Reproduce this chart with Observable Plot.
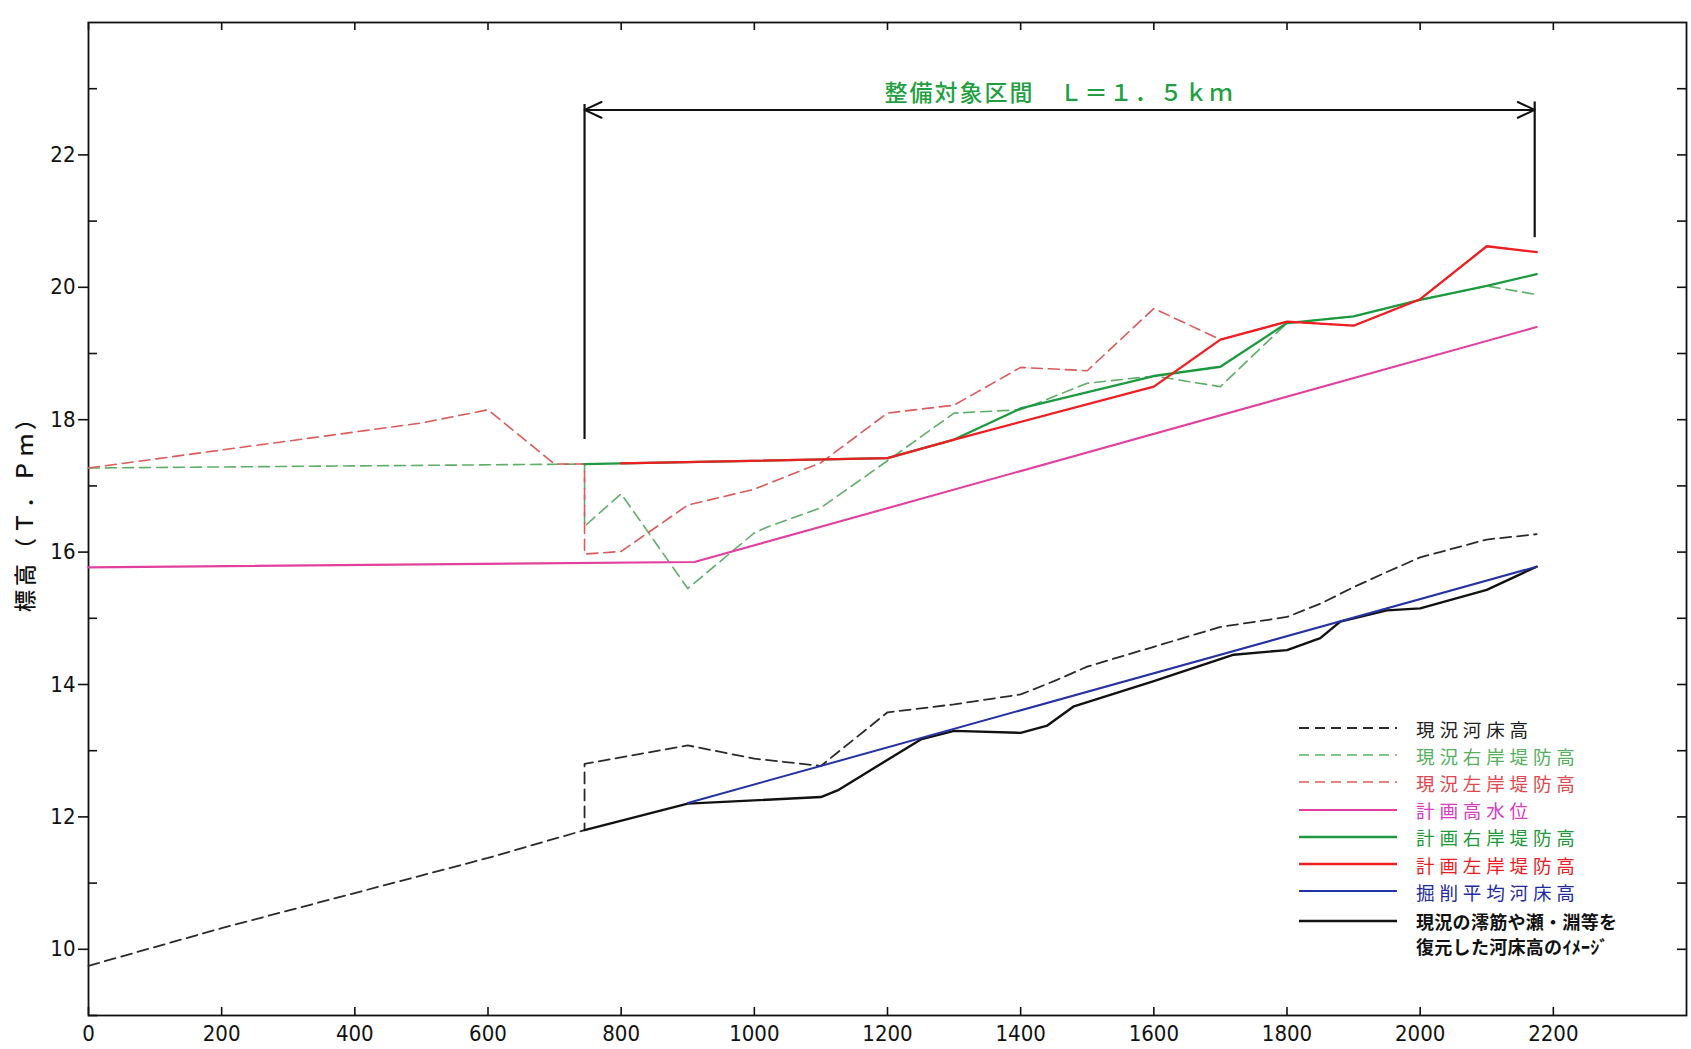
<!DOCTYPE html>
<html>
<head>
<meta charset="utf-8">
<script src="https://cdn.jsdelivr.net/npm/d3@7"></script>
<script src="https://cdn.jsdelivr.net/npm/@observablehq/plot@0.6"></script>
<style>
  html, body { margin: 0; padding: 0; background: #fff; }
  #wrap { position: relative; width: 1691px; height: 1049px; overflow: hidden; background: #fff; }
  #legend { position: absolute; left: 0; top: 0; width: 1691px; height: 1049px; pointer-events: none;
            font-family: "Noto Sans CJK JP", "Noto Sans", sans-serif; }
  .lg-row { position: absolute; display: flex; align-items: center; white-space: nowrap; }
  .lg-text { font-size: 18.6px; letter-spacing: 4.8px; line-height: 27px; }
  .lg-text.small { font-size: 18px; font-weight: 700; letter-spacing: 0.3px; line-height: 25px; }
</style>
</head>
<body>
<div id="wrap"><div id="chart"></div><div id="legend"></div></div>
<script>
// ---------------- data ----------------
// x: distance (m), y: elevation T.P. (m)
const bedCurrent = [[0,9.75],[200,10.32],[400,10.85],[600,11.38],[745,11.80],[745,12.80],[900,13.08],[1000,12.88],[1100,12.77],[1200,13.58],[1300,13.70],[1400,13.85],[1450,14.05],[1500,14.27],[1600,14.57],[1700,14.87],[1800,15.02],[1850,15.22],[1900,15.47],[1950,15.70],[2000,15.92],[2100,16.19],[2175,16.27]];
const rightBankCurrent = [[0,17.27],[745,17.33],[745,16.39],[800,16.88],[900,15.45],[1000,16.29],[1020,16.38],[1100,16.67],[1200,17.38],[1300,18.10],[1400,18.15],[1500,18.55],[1600,18.66],[1700,18.50],[1800,19.46],[1900,19.56],[2000,19.81],[2100,20.02],[2175,19.89]];
const leftBankCurrent = [[0,17.27],[500,17.95],[600,18.15],[700,17.33],[745,17.33],[745,15.97],[800,16.01],[900,16.71],[1000,16.95],[1100,17.35],[1200,18.10],[1300,18.22],[1400,18.79],[1500,18.74],[1600,19.68],[1700,19.21],[1800,19.48],[1900,19.42],[2000,19.82],[2100,20.62],[2175,20.53]];
const highWaterPlan = [[0,15.77],[910,15.85],[2175,19.40]];
const rightBankPlan = [[745,17.33],[800,17.34],[1200,17.42],[1300,17.70],[1400,18.17],[1600,18.66],[1700,18.80],[1800,19.46],[1900,19.56],[2000,19.81],[2100,20.02],[2175,20.20]];
const leftBankPlan = [[800,17.34],[1200,17.42],[1300,17.70],[1600,18.50],[1700,19.21],[1800,19.48],[1900,19.42],[2000,19.82],[2100,20.62],[2175,20.53]];
const excavatedBed = [[900,12.21],[2175,15.78]];
const restoredBed = [[745,11.80],[900,12.20],[1100,12.30],[1125,12.40],[1250,13.17],[1300,13.30],[1400,13.27],[1440,13.38],[1480,13.67],[1600,14.05],[1720,14.45],[1800,14.52],[1850,14.70],[1880,14.95],[1950,15.12],[2000,15.15],[2100,15.43],[2175,15.78]];

// section annotation
const sectionRange = [745, 2172];
const sectionArrowY = [22.68];
const sectionBracketLeft = [22.76, 17.70];
const sectionBracketRight = [22.80, 20.75];
const sectionLabel = ["整備対象区間　Ｌ＝１．５ｋｍ"];

// axes
const xDomain = [0, 2400];
const yDomain = [9, 24];
const xTickValues = [0,200,400,600,800,1000,1200,1400,1600,1800,2000,2200];
const yLabelValues = [10,12,14,16,18,20,22];
const yMinorValues = [9,11,13,15,17,19,21,23];
const yRightValues = [10,11,12,13,14,15,16,17,18,19,20,21,22,23];
const yAxisLabel = ["標高（Ｔ．Ｐｍ）"];

// legend
const legendLabels = ["現況河床高","現況右岸堤防高","現況左岸堤防高","計画高水位","計画右岸堤防高","計画左岸堤防高","掘削平均河床高","現況の澪筋や瀬・淵等を\n復元した河床高のｲﾒｰｼﾞ"];

// ---------------- styles ----------------
const C = {
  bedCurrent: "#2a2a2a",
  rightBankCurrent: "#5fae68",
  leftBankCurrent: "#dc5a5a",
  highWater: "#e2409f",
  rightBankPlan: "#1d9a40",
  leftBankPlan: "#ee1e22",
  excavated: "#2432a4",
  restored: "#111111",
  annot: "#1fa040"
};
const legendStyle = [
  {stroke: C.bedCurrent, dash: "10,6", text: "#222", w: 1.8},
  {stroke: C.rightBankCurrent, dash: "10,6", text: "#55b060", w: 1.6},
  {stroke: C.leftBankCurrent, dash: "10,6", text: "#e0484f", w: 1.6},
  {stroke: C.highWater, dash: null, text: "#d83cc0", w: 2.2},
  {stroke: C.rightBankPlan, dash: null, text: "#1e9a3c", w: 2.4},
  {stroke: C.leftBankPlan, dash: null, text: "#ec1c24", w: 2.4},
  {stroke: C.excavated, dash: null, text: "#1f2aa0", w: 2.2},
  {stroke: C.restored, dash: null, text: "#111", w: 2.4, small: true}
];

const W = 1691, H = 1049, mL = 88, mR = 5, mT = 22, mB = 34;
const innerW = W - mL - mR, innerH = H - mT - mB;
const px = d => d[0], py = d => d[1];
const sectionMid = (sectionRange[0] + sectionRange[1]) / 2;

const chart = Plot.plot({
  width: W, height: H,
  marginLeft: mL, marginRight: mR, marginTop: mT, marginBottom: mB,
  x: {domain: xDomain},
  y: {domain: yDomain},
  style: {fontFamily: "'Liberation Sans Narrow', 'DejaVu Sans Condensed', 'Liberation Sans', sans-serif", fontSize: "22px", color: "#111", background: "#fff", overflow: "visible"},
  marks: [
    Plot.axisX(xTickValues, {tickSize: 0, tickPadding: 10, tickFormat: d => String(d), label: null, fontSize: 22}),
    Plot.axisY(yLabelValues, {tickSize: 10, tickPadding: 3, tickFormat: d => String(d), label: null, fontSize: 22, strokeWidth: 1.6}),
    Plot.tickX(xTickValues, {x: d => d, insetTop: innerH - 8, stroke: "#111", strokeWidth: 1.6}),
    Plot.tickX(xTickValues, {x: d => d, insetBottom: innerH - 8, stroke: "#111", strokeWidth: 1.6}),
    Plot.tickY(yMinorValues, {y: d => d, insetRight: innerW - 9, stroke: "#111", strokeWidth: 1.6}),
    Plot.tickY(yRightValues, {y: d => d, insetLeft: innerW - 9, stroke: "#111", strokeWidth: 1.6}),
    Plot.frame({stroke: "#111", strokeWidth: 1.8}),
    Plot.text(yAxisLabel, {frameAnchor: "left", textAnchor: "middle", rotate: -90, dx: -63, dy: -11, fill: "#111", fontSize: 22, fontWeight: 500, fontFamily: "Noto Sans CJK JP"}),

    // section annotation
    Plot.ruleX([sectionRange[0]], {x: d => d, y1: sectionBracketLeft[0], y2: sectionBracketLeft[1], stroke: "#111", strokeWidth: 2.2}),
    Plot.ruleX([sectionRange[1]], {x: d => d, y1: sectionBracketRight[0], y2: sectionBracketRight[1], stroke: "#111", strokeWidth: 2.2}),
    Plot.arrow([sectionRange[0], sectionRange[1]], {x1: () => sectionMid, x2: d => d, y1: () => sectionArrowY[0], y2: () => sectionArrowY[0], headLength: 14, headAngle: 50, stroke: "#111", strokeWidth: 2, insetStart: 0, insetEnd: 0}),
    Plot.text(sectionLabel, {x: () => sectionMid, y: () => sectionArrowY[0], dy: -16, fill: C.annot, fontSize: 23, fontFamily: "Noto Sans CJK JP", fontWeight: 500}),

    // dashed (current) lines
    Plot.line(bedCurrent, {x: px, y: py, stroke: C.bedCurrent, strokeWidth: 1.8, strokeDasharray: "11,6"}),
    Plot.line(rightBankCurrent, {x: px, y: py, stroke: C.rightBankCurrent, strokeWidth: 1.6, strokeDasharray: "11,6"}),
    Plot.line(leftBankCurrent, {x: px, y: py, stroke: C.leftBankCurrent, strokeWidth: 1.6, strokeDasharray: "11,6"}),
    // plan lines
    Plot.line(highWaterPlan, {x: px, y: py, stroke: C.highWater, strokeWidth: 2.1}),
    Plot.line(rightBankPlan, {x: px, y: py, stroke: C.rightBankPlan, strokeWidth: 2.3}),
    Plot.line(leftBankPlan, {x: px, y: py, stroke: C.leftBankPlan, strokeWidth: 2.3}),
    Plot.line(restoredBed, {x: px, y: py, stroke: C.restored, strokeWidth: 2.4}),
    Plot.line(excavatedBed, {x: px, y: py, stroke: C.excavated, strokeWidth: 2})
  ]
});
document.getElementById("chart").appendChild(chart);

// letter spacing for annotation texts
d3.select(chart).selectAll("text").each(function() {
  const t = this.textContent;
  if (t === sectionLabel[0]) this.setAttribute("letter-spacing", "2");
  if (t === yAxisLabel[0]) this.setAttribute("letter-spacing", "4");
});

// ---------------- legend (HTML overlay) ----------------
const legend = document.getElementById("legend");
const lgLeft = 1299, lgLineW = 98, lgTextLeft = 1416, lgTop0 = 728, lgStep = 27.2;
legendLabels.forEach((label, i) => {
  const s = legendStyle[i];
  const cy = i < 7 ? lgTop0 + i * lgStep : lgTop0 + 6 * lgStep + 30;
  const row = document.createElement("div");
  row.className = "lg-row";
  row.style.left = lgLeft + "px";
  row.style.top = (cy - 2) + "px";
  row.innerHTML = `<svg width="${lgLineW}" height="4"><line x1="0" y1="2" x2="${lgLineW}" y2="2" stroke="${s.stroke}" stroke-width="${s.w}" ${s.dash ? `stroke-dasharray="${s.dash}"` : ""}/></svg>`;
  legend.appendChild(row);
  const tx = document.createElement("div");
  tx.className = "lg-text" + (s.small ? " small" : "");
  tx.style.position = "absolute";
  tx.style.left = lgTextLeft + "px";
  const lh = s.small ? 25 : 27;
  tx.style.top = (cy - lh / 2) + "px";
  tx.style.color = s.text;
  tx.style.whiteSpace = "pre";
  tx.textContent = label;
  legend.appendChild(tx);
});
</script>
</body>
</html>
